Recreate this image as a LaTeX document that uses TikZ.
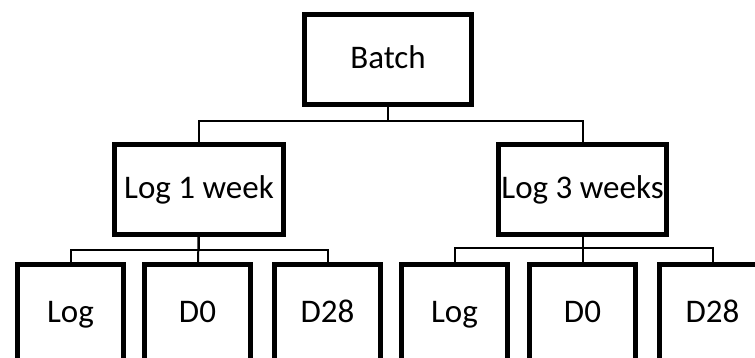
\documentclass[tikz,border=0pt]{standalone}
\usepackage{fontspec}
\setmainfont{Carlito}
\usepackage{tikz}

\begin{document}
\begin{tikzpicture}[x=1pt, y=-1pt,
  box/.style={draw, line width=5pt, fill=white, minimum width=168pt, minimum height=90pt,
              inner sep=0pt, text height=22pt, text depth=4pt, font=\fontsize{33}{40}\selectfont},
  leaf/.style={box, minimum width=106pt, minimum height=98pt},
  link/.style={line width=2pt}]
  \useasboundingbox (0,0) rectangle (755,357);
  \clip (0,0) rectangle (755,357);
  % connectors first, boxes on top
  \coordinate (b) at (388,59.5);
  \coordinate (w1) at (199,189.5);
  \coordinate (w3) at (582.5,189.5);
  \draw[link] (b) -- ++(0,61.5) -| (w1);
  \draw[link] (b) ++(0,61.5) -| (w3);
  \draw[link] (w1) -- ++(0,60.5) -| (70.5,313.5);
  \draw[link] (w1) ++(0,60.5) -| (327.5,313.5);
  \draw[link] (w1) -- (197.5,313.5);
  \draw[link] (w3) -- ++(0,58.5) -| (454.5,313.5);
  \draw[link] (w3) ++(0,58.5) -| (712.5,313.5);
  \draw[link] (w3) -- (582.5,313.5);
  % boxes
  \node[box, minimum width=167pt] (batch) at (b) {Batch};
  \node[box, minimum width=169pt] (wk1) at (w1) {Log 1 week};
  \node[box] (wk3) at (w3) {Log 3 weeks};
  \node[leaf] (log1) at (70.5,313.5) {Log};
  \node[leaf] (d01) at (197.5,313.5) {D0};
  \node[leaf] (d281) at (327.5,313.5) {D28};
  \node[leaf] (log3) at (454.5,313.5) {Log};
  \node[leaf] (d03) at (582.5,313.5) {D0};
  \node[leaf] (d283) at (712.5,313.5) {D28};
\end{tikzpicture}
\end{document}
